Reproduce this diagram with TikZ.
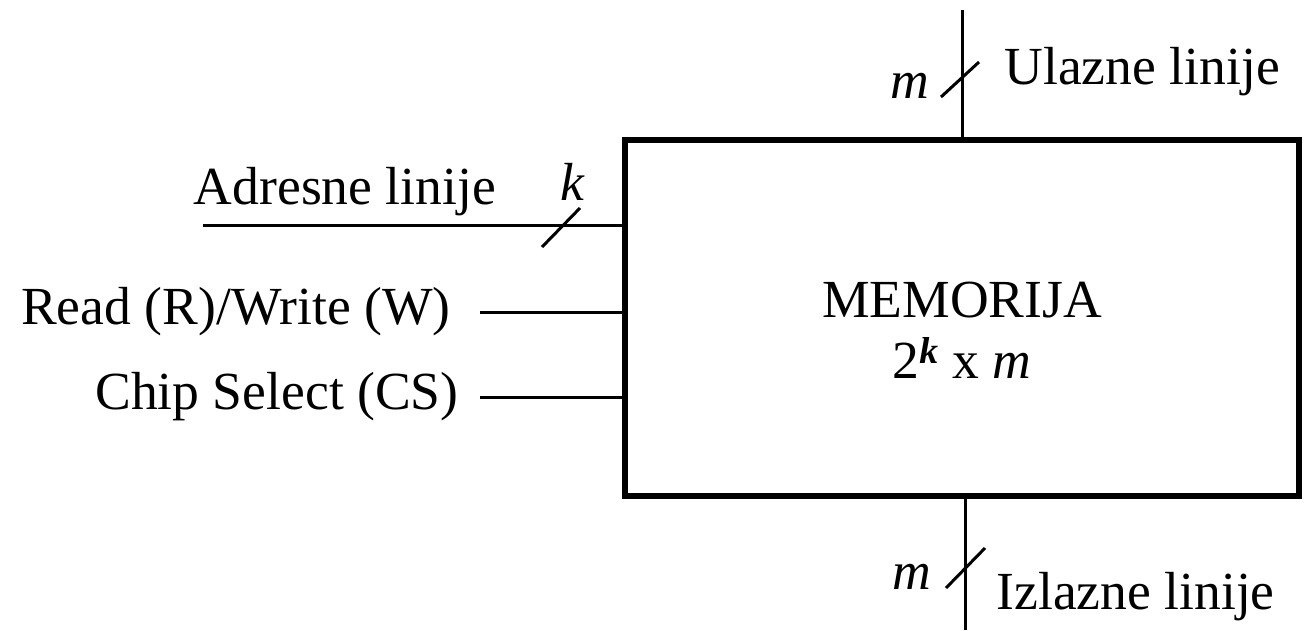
\documentclass[tikz,border=0pt]{standalone}
\usepackage{fontspec}
\setmainfont{Liberation Serif}
\usetikzlibrary{positioning}
\begin{document}
\begin{tikzpicture}[x=0.02cm, y=-0.02cm, line width=1.7pt,
    txt/.style={font=\fontsize{30.5}{36}\selectfont, inner sep=0pt},
    membox/.style={draw, line width=3.4pt, minimum width=13.48cm, minimum height=7.12cm, inner sep=0pt, outer sep=0pt}]
        \useasboundingbox (0,0) rectangle (1304,630);
        \node[membox] (mem) at (962,318) {};
        \node[txt] (naziv) at (962,300) {MEMORIJA};
        \node[txt] (velicina) at (962,358) {2\textsuperscript{\textbf{\textit{k}}} x \textit{m}};
        % ulaz i izlaz
        \coordinate (ul) at (962,10); \coordinate (iz) at (965,630);
        \draw (ul) -- (ul |- mem.north); \draw (iz) -- (iz |- mem.south);
        \draw (941,97) -- (979,62); \draw (946,588) -- (985,548);
        \node[txt] (mul) at (910,86) {\textit{m}};
        \node[txt, anchor=west] (ulaz) at (1003,72) {Ulazne linije};
        \node[txt] (miz) at (912,577) {\textit{m}};
        \node[txt, anchor=west] (izlaz) at (995,597) {Izlazne linije};
        % adrese
        \coordinate (adr) at (203,225);
        \draw (adr) -- (adr -| mem.west);
        \draw (542,247) -- (580,208);
        \node[txt] (k) at (573,182) {\textit{k}};
        \node[txt] (adrese) at (345,192) {Adresne linije};
        % upravljanje
        \foreach \y/\ime/\x/\tekst in {312/rw/452/{Read (R)/Write (W)}, 397/cs/460/{Chip Select (CS)}} {
            \coordinate (\ime) at (480,\y);
            \draw (\ime) -- (\ime -| mem.west);
            \node[txt, anchor=east] at (\x,\y) {\tekst};
        }
\end{tikzpicture}
\end{document}
